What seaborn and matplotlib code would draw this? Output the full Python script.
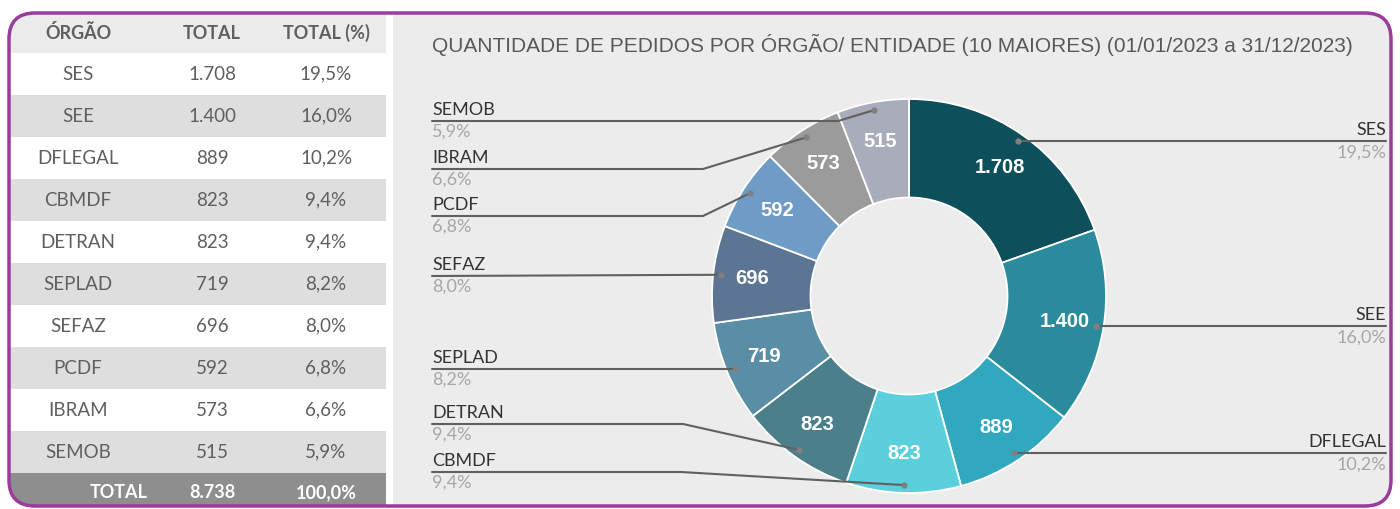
import numpy as np
import matplotlib.pyplot as plt
import seaborn as sns
from matplotlib.patches import FancyBboxPatch, Rectangle

# dados (01/01/2023 a 31/12/2023)
orgaos = ["SES", "SEE", "DFLEGAL", "CBMDF", "DETRAN", "SEPLAD", "SEFAZ", "PCDF", "IBRAM", "SEMOB"]
totais = [1708, 1400, 889, 823, 823, 719, 696, 592, 573, 515]
percentuais = [19.5, 16.0, 10.2, 9.4, 9.4, 8.2, 8.0, 6.8, 6.6, 5.9]
cabecalho = ["ÓRGÃO", "TOTAL", "TOTAL (%)"]
titulo = "QUANTIDADE DE PEDIDOS POR ÓRGÃO/ ENTIDADE (10 MAIORES) (01/01/2023 a 31/12/2023)"
cores = ["#0d4f5b", "#2a8b9c", "#31a8bd", "#5ccfdd", "#4b7f8b",
         "#5a8ea6", "#5b7592", "#6e9cc4", "#9b9b9b", "#a9adbb"]

# layout (pixels)
W, H = 1400, 509
CX, CY, R = 909, 296, 197
left_label_y = {"SEMOB": 121, "IBRAM": 169, "PCDF": 216, "SEFAZ": 276,
                "SEPLAD": 369, "DETRAN": 424, "CBMDF": 472}
left_elbow_x = {"SEMOB": 838, "IBRAM": 703, "PCDF": 703, "DETRAN": 683, "CBMDF": 681}
right_side = ["SES", "SEE", "DFLEGAL"]

sns.set_theme(style="white")
plt.rcParams['font.family'] = ['Lato', 'DejaVu Sans']
palette = sns.color_palette(cores)
arial = ["Liberation Sans", "DejaVu Sans"]


def br_int(v):
    return f"{v:,}".replace(",", ".")


def br_pct(p):
    return f"{p:.1f}%".replace(".", ",")


fig = plt.figure(figsize=(W / 100, H / 100), dpi=100)
fig.patch.set_facecolor("white")

# background layer: table + panel
bg = fig.add_axes([0, 0, 1, 1], zorder=0)
bg.set_xlim(0, W)
bg.set_ylim(H, 0)
bg.axis("off")

clip_box = FancyBboxPatch((9, 13), 1382, 493, boxstyle="round,pad=0,rounding_size=26",
                          transform=bg.transData, fc="none", ec="none")
bg.add_patch(clip_box)


def add_rect(x, y, w, h, color):
    r = Rectangle((x, y), w, h, fc=color, ec="none")
    bg.add_patch(r)
    r.set_clip_path(clip_box)


# chart panel
add_rect(393, 13, 1000, 495, "#ececec")

# table
tx0, tx1 = 9, 386
col_x = [78, 212, 326]
tcol = "#5f5f5f"
add_rect(tx0, 13, tx1 - tx0, 40, "#ebebeb")
for j, h in enumerate(cabecalho):
    bg.text(col_x[j], 33, h, ha="center", va="center", fontsize=13,
            fontweight="bold", color=tcol)

row_h = 42
for i, (org, tot, pct) in enumerate(zip(orgaos, totais, percentuais)):
    top = 53 + row_h * i
    add_rect(tx0, top, tx1 - tx0, row_h, "#ffffff" if i % 2 == 0 else "#dedede")
    yc = top + row_h / 2
    for j, s in enumerate([org, br_int(tot), br_pct(pct)]):
        bg.text(col_x[j], yc, s, ha="center", va="center", fontsize=13.5, color=tcol)

top = 53 + row_h * len(orgaos)
add_rect(tx0, top, tx1 - tx0, 60, "#8e8e8e")
yc = top + 20
bg.text(148, yc, "TOTAL", ha="right", va="center", fontsize=13,
        fontweight="bold", color="white")
bg.text(col_x[1], yc, br_int(sum(totais)), ha="center", va="center", fontsize=13,
        fontweight="bold", color="white")
bg.text(col_x[2], yc, br_pct(100.0), ha="center", va="center", fontsize=13,
        fontweight="bold", color="white")

bg.text(432, 45, titulo, ha="left", va="center", fontsize=15,
        color="#595959", family=arial)

# donut
S = 2.5 * R
ax_pie = fig.add_axes([(CX - S / 2) / W, (H - CY - S / 2) / H, S / W, S / H], zorder=1)
ax_pie.patch.set_visible(False)
wedges, _ = ax_pie.pie(totais, colors=palette, startangle=90, counterclock=False,
                       radius=1, wedgeprops=dict(width=0.5, edgecolor="white", linewidth=1.3))

# foreground layer: leader lines and labels
fg = fig.add_axes([0, 0, 1, 1], zorder=2)
fg.set_xlim(0, W)
fg.set_ylim(H, 0)
fg.axis("off")

line_col = "#606060"
for w, org, tot, pct in zip(wedges, orgaos, totais, percentuais):
    mid = np.deg2rad((w.theta1 + w.theta2) / 2)
    ax_pie.text(0.8 * np.cos(mid), 0.8 * np.sin(mid), br_int(tot), ha="center", va="center",
                fontsize=14.5, fontweight="bold", color="white", family=arial)
    dx = CX + 0.96 * R * np.cos(mid)
    dy = CY - 0.96 * R * np.sin(mid)
    fg.plot(dx, dy, "o", ms=3.5, color="#808080", zorder=3)
    if org in right_side:
        fg.plot([dx, 1386], [dy, dy], color=line_col, lw=1.5)
        fg.text(1386, dy - 3, org, ha="right", va="bottom", fontsize=13, color="#333333")
        fg.text(1386, dy + 3, br_pct(pct), ha="right", va="top", fontsize=13, color="#a6a6a6")
    else:
        ly = left_label_y[org]
        xs = [432]
        ys = [ly]
        if org in left_elbow_x:
            xs.append(left_elbow_x[org])
            ys.append(ly)
        xs.append(dx)
        ys.append(dy)
        fg.plot(xs, ys, color=line_col, lw=1.5)
        fg.text(432, ly - 3, org, ha="left", va="bottom", fontsize=13, color="#333333")
        fg.text(432, ly + 3, br_pct(pct), ha="left", va="top", fontsize=13, color="#a6a6a6")

# purple rounded frame
frame = FancyBboxPatch((9, 13), 1382, 493, boxstyle="round,pad=0,rounding_size=26",
                       fc="none", ec="#9b3b9b", lw=2.5, zorder=5)
fg.add_patch(frame)

fig.savefig("out.png", dpi=100)
